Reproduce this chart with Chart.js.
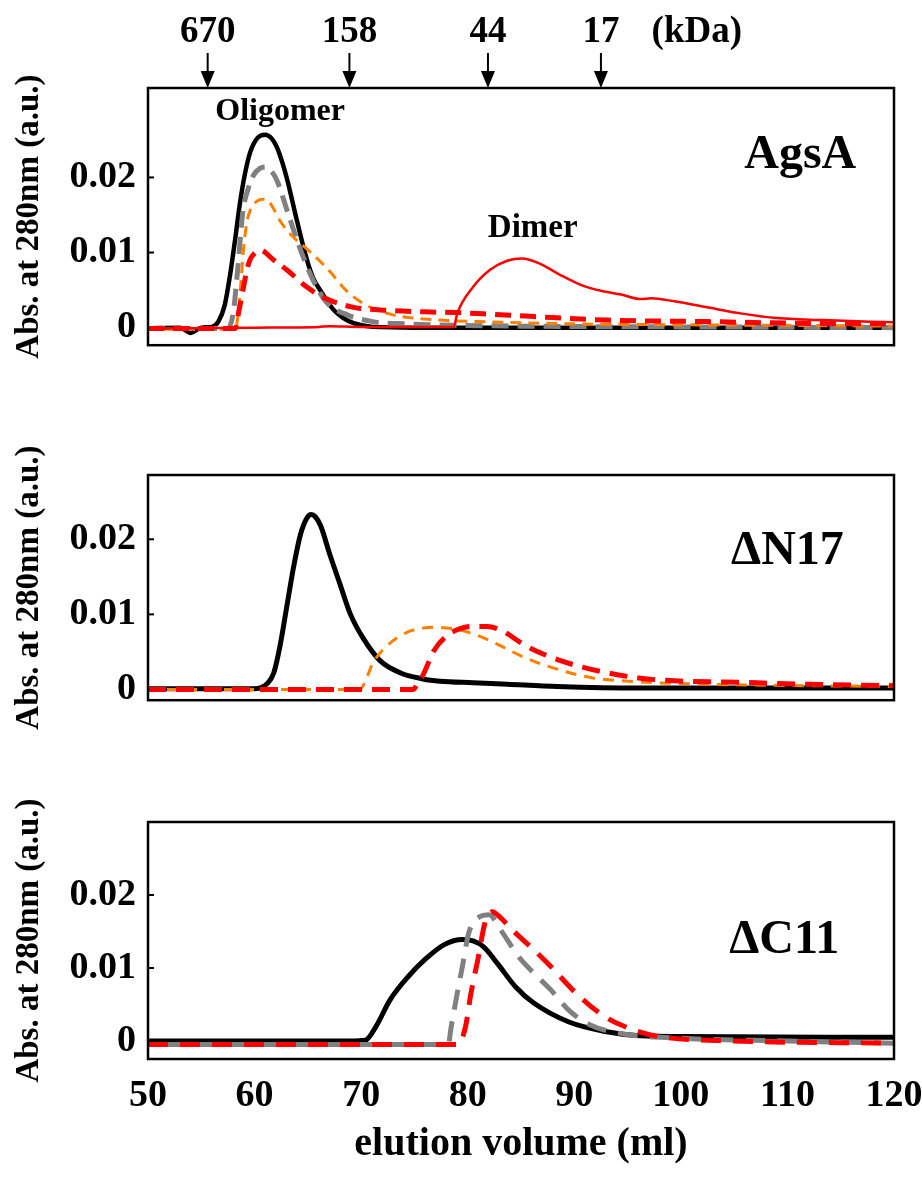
<!DOCTYPE html>
<html>
<head>
<meta charset="utf-8">
<script src="https://cdn.jsdelivr.net/npm/chart.js@4/dist/chart.umd.min.js"></script>
<style>
  body { margin: 0; background: #fff; }
  #wrap { position: relative; width: 922px; height: 1189px; }
  canvas { position: absolute; left: 0; }
</style>
</head>
<body>
<div id="wrap">
  <canvas id="c1" width="922" height="380" style="top:0px"></canvas>
  <canvas id="c2" width="922" height="340" style="top:395px"></canvas>
  <canvas id="c3" width="922" height="439" style="top:750px"></canvas>
</div>
<script>
// elution volume (ml) vs absorbance
const xTickValues = [50, 60, 70, 80, 90, 100, 110, 120];
const yTickValues = [0, 0.01, 0.02];
const kdaVolumes = [55.6, 68.9, 81.9, 92.5];
const kdaLabels = ['670', '158', '44', '17'];

// AgsA
const agsaBlack = [[50,-0.0001],[53,0],[54,-0.0007],[55,0],[56,0.0001],[56.6,0.0008],[57.2,0.003],[57.7,0.007],[58.2,0.012],[58.6,0.0163],[59.1,0.0205],[59.6,0.0234],[60.3,0.0253],[61.0,0.0257],[61.6,0.0252],[62.1,0.024],[62.6,0.022],[63.1,0.0195],[64.0,0.0141],[64.9,0.0091],[65.5,0.0066],[66.2,0.0049],[67.4,0.0024],[68.3,0.0013],[69.3,0.0006],[71.1,0.0001],[75,0],[85,0],[100,0],[120,0]];
const agsaGray = [[50,-0.0001],[57.5,-0.0001],[58.0,0.002],[58.4,0.0075],[58.9,0.0154],[59.4,0.0185],[59.9,0.0203],[60.5,0.0212],[61.0,0.0214],[61.6,0.0208],[62.1,0.0196],[63.1,0.0154],[64.3,0.0104],[65.5,0.0063],[66.8,0.0033],[68.7,0.0017],[71.1,0.0008],[74.3,0.0005],[85,0.0002],[100,0.0001],[120,0]];
const agsaOrange = [[50,-0.0002],[58.2,-0.0002],[58.6,0.004],[59.0,0.011],[59.3,0.0142],[59.7,0.016],[60.1,0.0167],[60.7,0.0171],[61.2,0.017],[61.8,0.0158],[62.4,0.0142],[63.6,0.0121],[64.9,0.0105],[66.8,0.0079],[68.7,0.0048],[70.6,0.0029],[73.0,0.0017],[77.4,0.001],[81,0.0008],[83.7,0.0007],[90,0.0005],[97.8,0.0004],[110,0.0003],[120,0.0002]];
const agsaRedDash = [[50,-0.0001],[58.2,-0.0001],[58.5,0.002],[58.9,0.0049],[59.3,0.0078],[59.6,0.0091],[60.0,0.0099],[60.5,0.0103],[60.8,0.0102],[61.8,0.009],[63.1,0.0076],[64.9,0.0054],[66.8,0.0038],[69.3,0.0027],[72.7,0.0023],[76,0.0021],[79,0.002],[82,0.0018],[85.9,0.0015],[93.1,0.001],[102.5,0.0008],[110,0.0006],[118,0.0005],[120,0.0005]];
const agsaRedSolid = [[50,-0.0001],[60,0],[66,0.0001],[67,0.0002],[70,0.0001],[78.7,0.0001],[79.0,0.0018],[80.5,0.0054],[82.1,0.0077],[83.7,0.0089],[85.1,0.0092],[86.8,0.0085],[88.7,0.007],[90.6,0.0057],[92.5,0.0049],[94.4,0.0044],[96.2,0.0038],[97.2,0.0039],[99.4,0.0035],[102.5,0.0027],[105.6,0.0019],[108.7,0.0013],[113.4,0.001],[120,0.0007]];

// ΔN17
const n17Black = [[50,0.0001],[59.9,0.0001],[61.2,0.0008],[61.8,0.0022],[62.4,0.0059],[63.1,0.0117],[63.7,0.0166],[64.3,0.0206],[64.9,0.0228],[65.3,0.0233],[65.7,0.023],[66.2,0.0218],[67.1,0.0178],[68.0,0.0141],[69.0,0.01],[70.2,0.0068],[71.8,0.0038],[73.7,0.0022],[75.8,0.0014],[77.4,0.0011],[80.5,0.0009],[83.7,0.0007],[88.4,0.0004],[96.2,0.0002],[120,0.0002]];
const n17Orange = [[50,0],[69.9,0],[70.5,0.0015],[71.1,0.0035],[72.5,0.0059],[74.3,0.0076],[75.5,0.0081],[76.8,0.0083],[78,0.0082],[79.3,0.0079],[80.5,0.0074],[82.1,0.0065],[83.1,0.0058],[85.6,0.0041],[88.4,0.0027],[91.5,0.0016],[96.2,0.001],[102.5,0.0007],[111.9,0.0005],[120,0.0004]];
const n17RedDash = [[50,0],[74.9,0],[75.3,0.0008],[75.8,0.0019],[76.8,0.0051],[78.1,0.0072],[79.3,0.0081],[80.5,0.0084],[81.8,0.0084],[83.1,0.0079],[85.6,0.0057],[89.0,0.0037],[92.5,0.0024],[96.2,0.0015],[100.3,0.0011],[104,0.001],[111.9,0.0007],[120,0.0005]];

// ΔC11
const c11Black = [[50,0],[69,0],[70.4,0.0001],[71.4,0.002],[72.7,0.0056],[74.4,0.0088],[76.1,0.0113],[77.8,0.0132],[79.5,0.0139],[80.5,0.0137],[81.5,0.0129],[82.8,0.0106],[84.5,0.0074],[86.2,0.0052],[89.5,0.0026],[92.9,0.0013],[96.2,0.0007],[100,0.0006],[120,0.0005]];
const c11Gray = [[50,-0.0005],[78.2,-0.0005],[78.4,0.0015],[78.9,0.0056],[79.5,0.0102],[80.1,0.0148],[81.1,0.017],[82.0,0.0173],[83.1,0.0152],[84.8,0.0115],[86.2,0.0093],[87.8,0.007],[89.5,0.0042],[91.5,0.0022],[94.5,0.001],[99.6,0.0004],[110,0],[120,-0.0003]];
const c11RedDash = [[50,-0.0005],[79.1,-0.0005],[79.8,0.002],[80.3,0.0065],[81.0,0.0115],[81.6,0.0161],[82.3,0.0177],[83.0,0.017],[84.2,0.0152],[86.2,0.0125],[87.8,0.0102],[90.2,0.0065],[92.9,0.0033],[95.6,0.0015],[98.0,0.0006],[105,0],[120,-0.0003]];

const serif = '"Liberation Serif", "Times New Roman", serif';

function line(points, color, width, dash, offset) {
  return {
    data: points.map(p => ({x: p[0], y: p[1]})),
    borderColor: color,
    borderWidth: width,
    borderDash: dash || [],
    borderDashOffset: offset || 0,
    borderCapStyle: 'butt',
    pointRadius: 0,
    fill: false,
    cubicInterpolationMode: 'monotone'
  };
}

// frame round the plot area + short inward ticks on the y axis
const framePlugin = {
  id: 'frame',
  afterDraw(chart) {
    const {ctx, chartArea: a} = chart;
    ctx.save();
    ctx.strokeStyle = '#000';
    ctx.lineWidth = 2.5;
    ctx.strokeRect(a.left, a.top, a.right - a.left, a.bottom - a.top);
    const ys = chart.scales.y;
    ctx.lineWidth = 2;
    ys.ticks.forEach(t => {
      if (t.value === 0) return;
      const py = ys.getPixelForValue(t.value);
      ctx.beginPath();
      ctx.moveTo(a.left, py);
      ctx.lineTo(a.left + 6, py);
      ctx.stroke();
    });
    // text notes placed in data coordinates
    const notes = chart.options.plugins.frame.notes || [];
    ctx.fillStyle = '#000';
    ctx.textAlign = 'center';
    ctx.textBaseline = 'middle';
    notes.forEach(n => {
      ctx.font = 'bold ' + n.size + 'px ' + serif;
      ctx.fillText(n.text, chart.scales.x.getPixelForValue(n.x), ys.getPixelForValue(n.y));
    });
    ctx.restore();
  }
};

// marker arrows above the top panel
const kdaPlugin = {
  id: 'kda',
  afterDraw(chart) {
    const o = chart.options.plugins.kda;
    if (!o || !o.show) return;
    const {ctx, chartArea: a} = chart;
    const xs = chart.scales.x;
    ctx.save();
    ctx.fillStyle = '#000';
    ctx.strokeStyle = '#000';
    ctx.textAlign = 'center';
    ctx.textBaseline = 'middle';
    ctx.font = 'bold 37px ' + serif;
    kdaVolumes.forEach((v, i) => {
      const px = xs.getPixelForValue(v);
      ctx.fillText(kdaLabels[i], px, 32);
      ctx.lineWidth = 2;
      ctx.beginPath();
      ctx.moveTo(px, 53);
      ctx.lineTo(px, a.top - 12);
      ctx.stroke();
      ctx.beginPath();
      ctx.moveTo(px - 7, a.top - 17);
      ctx.lineTo(px + 7, a.top - 17);
      ctx.lineTo(px, a.top);
      ctx.closePath();
      ctx.fill();
    });
    ctx.fillText('(kDa)', xs.getPixelForValue(101.5), 32);
    ctx.restore();
  }
};

function panel(id, datasets, yMin, yMax, padTop, padBottom, showX, notes, kda) {
  return new Chart(document.getElementById(id), {
    type: 'line',
    data: {datasets: datasets},
    plugins: [framePlugin, kdaPlugin],
    options: {
      responsive: false,
      animation: false,
      devicePixelRatio: 1,
      layout: {padding: {left: 0, right: 28, top: padTop, bottom: padBottom}},
      plugins: {
        legend: {display: false},
        tooltip: {enabled: false},
        frame: {notes: notes},
        kda: {show: kda}
      },
      scales: {
        x: {
          type: 'linear',
          min: 50,
          max: 120,
          display: showX,
          afterBuildTicks: s => { s.ticks = xTickValues.map(v => ({value: v})); },
          afterFit: s => {
            s.height = showX ? 130 : 0;
            s.paddingLeft = 0;
            s.paddingRight = 0;
          },
          grid: {display: false, drawTicks: false},
          border: {display: false},
          ticks: {
            padding: 14,
            color: '#000',
            font: {family: serif, size: 38, weight: 'bold'}
          },
          title: {
            display: showX,
            text: 'elution volume (ml)',
            color: '#000',
            font: {family: serif, size: 40, weight: 'bold'},
            padding: {top: 0, bottom: 20}
          }
        },
        y: {
          min: yMin,
          max: yMax,
          afterBuildTicks: s => { s.ticks = yTickValues.map(v => ({value: v})); },
          afterFit: s => { s.width = 148; },
          grid: {display: false, drawTicks: false},
          border: {display: false},
          ticks: {
            autoSkip: false,
            padding: 12,
            color: '#000',
            font: {family: serif, size: 38, weight: 'bold'},
            callback: v => v === 0 ? '0' : v.toFixed(2)
          },
          title: {
            display: true,
            text: 'Abs. at 280nm (a.u.)',
            color: '#000',
            font: {family: serif, size: 33, weight: 'bold'},
            padding: {top: 10, bottom: 0}
          }
        }
      }
    }
  });
}

panel('c1', [
  line(agsaRedSolid, '#ff0000', 2.5),
  line(agsaRedDash, '#ff0000', 5, [16, 9]),
  line(agsaOrange, '#ff7f00', 3, [11, 7]),
  line(agsaGray, '#808080', 5, [17, 9]),
  line(agsaBlack, '#000000', 4.5)
], -0.00234, 0.03191, 88, 18, false, [
  {text: 'Oligomer', x: 62.4, y: 0.0287, size: 32},
  {text: 'Dimer', x: 86.1, y: 0.0132, size: 33},
  {text: 'AgsA', x: 111.2, y: 0.0229, size: 48}
], true);

panel('c2', [
  line(n17RedDash, '#ff0000', 5, [18, 10]),
  line(n17Orange, '#ff7f00', 3, [11, 8]),
  line(n17Black, '#000000', 5)
], -0.00143, 0.02856, 80, 15, false, [
  {text: 'ΔN17', x: 110, y: 0.0184, size: 48}
], false);

panel('c3', [
  line(c11RedDash, '#ff0000', 5, [20, 12]),
  line(c11Gray, '#808080', 5, [20, 12], 16),
  line(c11Black, '#000000', 5)
], -0.00247, 0.0300, 72, 0, true, [
  {text: 'ΔC11', x: 109.7, y: 0.0138, size: 48}
], false);
</script>
</body>
</html>
